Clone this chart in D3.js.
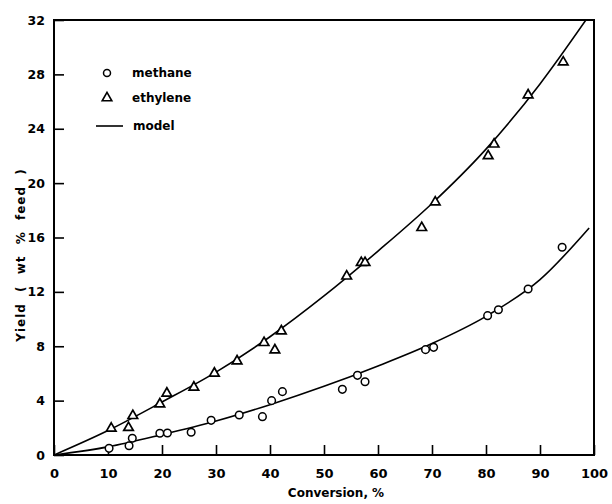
<!DOCTYPE html>
<html lang="en">
<head>
    <meta charset="UTF-8">
    <title>Yield vs conversion</title>
    <script src="https://d3js.org/d3.v7.min.js"></script>
    <style>
        body { margin: 0; background: #fff; }
        text { font-family: "DejaVu Sans", sans-serif; font-weight: bold; fill: #000; }
    </style>
</head>
<body>
    <svg id="chart" width="612" height="504"></svg>
    <script>
        const methaneX = [10.2, 13.9, 14.5, 19.6, 21.0, 25.4, 29.1, 34.3, 38.6, 40.3, 42.3, 53.4, 56.2, 57.6, 68.8, 70.3, 80.3, 82.3, 87.8, 94.1];
        const methaneY = [0.49, 0.68, 1.23, 1.6, 1.62, 1.67, 2.55, 2.94, 2.82, 4.0, 4.66, 4.83, 5.86, 5.39, 7.75, 7.92, 10.25, 10.69, 12.21, 15.28];

        const ethyleneX = [10.6, 13.8, 14.6, 19.6, 20.9, 25.9, 29.7, 33.9, 38.9, 40.9, 42.1, 54.2, 56.9, 57.6, 68.1, 70.6, 80.4, 81.5, 87.8, 94.3];
        const ethyleneY = [1.96, 2.01, 2.89, 3.75, 4.54, 4.98, 6.01, 6.91, 8.26, 7.72, 9.12, 13.15, 14.15, 14.15, 16.72, 18.6, 22.0, 22.86, 26.48, 28.9];

        // model curves
        const modelMethaneX = [0, 10, 20, 30, 40, 50, 60, 70, 80, 90, 99.1];
        const modelMethaneY = [0, 0.6, 1.5, 2.5, 3.7, 5.05, 6.55, 8.2, 10.2, 12.9, 16.7];
        const modelEthyleneX = [0, 10, 20, 30, 40, 50, 60, 70, 80, 90, 98.5];
        const modelEthyleneY = [0, 1.8, 3.9, 6.1, 8.7, 11.7, 15.0, 18.5, 22.5, 27.3, 32];

        const xTicks = [0, 10, 20, 30, 40, 50, 60, 70, 80, 90, 100];
        const yTicks = [0, 4, 8, 12, 16, 20, 24, 28, 32];

        const svg = d3.select("#chart");
        const plotL = 54, plotR = 594, plotT = 20, plotB = 455;

        const x = d3.scaleLinear().domain([0, 100]).range([plotL, plotR]);
        const y = d3.scaleLinear().domain([0, 32]).range([plotB, plotT]);

        svg.append("clipPath").attr("id", "plotclip")
            .append("rect")
            .attr("x", plotL).attr("y", plotT)
            .attr("width", plotR - plotL).attr("height", plotB - plotT);

        // frame
        svg.append("rect")
            .attr("x", plotL).attr("y", plotT)
            .attr("width", plotR - plotL).attr("height", plotB - plotT)
            .attr("fill", "none").attr("stroke", "#000").attr("stroke-width", 2);

        // axes with inward ticks
        const xAxis = svg.append("g")
            .attr("transform", `translate(0,${plotB})`)
            .call(d3.axisBottom(x).tickValues(xTicks).tickSizeInner(-10).tickSizeOuter(0).tickPadding(14));
        xAxis.select(".domain").remove();
        xAxis.selectAll("line").attr("stroke-width", 1.6);
        xAxis.selectAll("text").attr("font-size", 13).attr("font-family", null);

        const yAxis = svg.append("g")
            .attr("transform", `translate(${plotL},0)`)
            .call(d3.axisLeft(y).tickValues(yTicks).tickSizeInner(-10).tickSizeOuter(0).tickPadding(14));
        yAxis.select(".domain").remove();
        yAxis.selectAll("line").attr("stroke-width", 1.6);
        yAxis.selectAll("text").attr("font-size", 12.5).attr("font-family", null).attr("dx", 5);

        // axis titles
        svg.append("text")
            .attr("x", 336).attr("y", 497)
            .attr("text-anchor", "middle")
            .attr("font-size", 12)
            .text("Conversion, %");

        svg.append("text")
            .attr("transform", "translate(25,255) rotate(-90)")
            .attr("text-anchor", "middle")
            .attr("font-size", 12)
            .attr("letter-spacing", 1)
            .attr("word-spacing", 6)
            .text("Yield ( wt % feed )");

        // model lines
        const line = d3.line()
            .x(d => x(d[0]))
            .y(d => y(d[1]))
            .curve(d3.curveMonotoneX);

        const models = [
            d3.zip(modelMethaneX, modelMethaneY),
            d3.zip(modelEthyleneX, modelEthyleneY)
        ];
        svg.append("g").attr("clip-path", "url(#plotclip)")
            .selectAll("path")
            .data(models)
            .join("path")
            .attr("d", line)
            .attr("fill", "none")
            .attr("stroke", "#000")
            .attr("stroke-width", 1.6);

        // methane: open circles
        svg.append("g")
            .selectAll("circle")
            .data(d3.zip(methaneX, methaneY))
            .join("circle")
            .attr("cx", d => x(d[0]))
            .attr("cy", d => y(d[1]))
            .attr("r", 3.8)
            .attr("fill", "#fff")
            .attr("stroke", "#000")
            .attr("stroke-width", 1.5);

        // ethylene: open triangles
        const tri = d3.symbol().type(d3.symbolTriangle).size(40);
        svg.append("g")
            .selectAll("path")
            .data(d3.zip(ethyleneX, ethyleneY))
            .join("path")
            .attr("d", tri)
            .attr("transform", d => `translate(${x(d[0])},${y(d[1])})`)
            .attr("fill", "#fff")
            .attr("stroke", "#000")
            .attr("stroke-width", 1.7);

        // legend
        const legend = svg.append("g");
        legend.append("circle")
            .attr("cx", 107).attr("cy", 73).attr("r", 3.5)
            .attr("fill", "#fff").attr("stroke", "#000").attr("stroke-width", 1.5);
        legend.append("text").attr("x", 132).attr("y", 77).attr("font-size", 12).text("methane");
        legend.append("path").attr("d", tri)
            .attr("transform", "translate(107,98)")
            .attr("fill", "#fff").attr("stroke", "#000").attr("stroke-width", 1.6);
        legend.append("text").attr("x", 132).attr("y", 102).attr("font-size", 12).text("ethylene");
        legend.append("line")
            .attr("x1", 96).attr("x2", 123).attr("y1", 126).attr("y2", 126)
            .attr("stroke", "#000").attr("stroke-width", 1.6);
        legend.append("text").attr("x", 133).attr("y", 130).attr("font-size", 12).text("model");
    </script>
</body>
</html>
